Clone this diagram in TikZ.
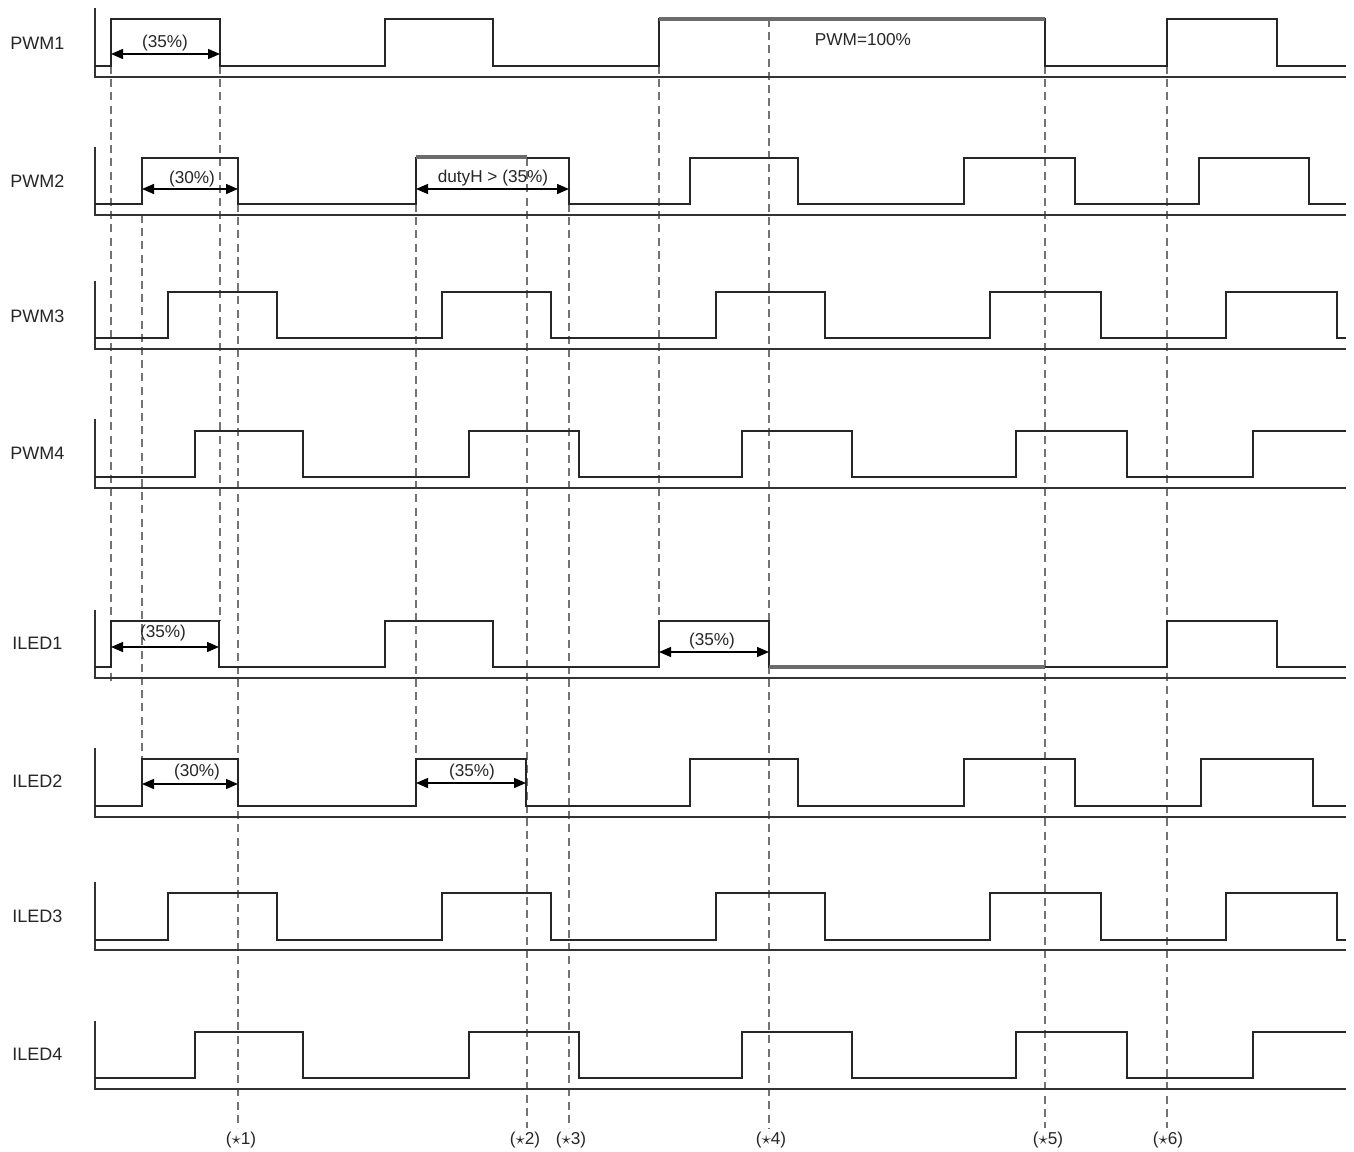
\documentclass[tikz,border=0pt]{standalone}
\usepackage{fontspec}
\setmainfont{Liberation Sans}
\usetikzlibrary{arrows.meta}
\begin{document}
\begin{tikzpicture}[x=0.5pt,y=-0.5pt,
  sig/.style={line width=0.75pt,draw=black!85},
  axisline/.style={line width=0.7pt,draw=black!80},
  thickgray/.style={line width=2pt,draw=black!58},
  guide/.style={line width=0.65pt,draw=black!55,dash pattern=on 4pt off 2.6pt},
  dim/.style={line width=0.7pt,{Triangle[length=6pt,width=5pt]}-{Triangle[length=6pt,width=5pt]}},
  rowlabel/.style={font=\fontsize{9}{10}\selectfont,text=black!85,anchor=west,inner sep=0pt},
  ann/.style={font=\fontsize{8.6}{10}\selectfont,text=black!85,inner sep=0pt},
  evmark/.style={font=\fontsize{8.6}{10}\selectfont,text=black!85,inner sep=0pt}
]
\useasboundingbox (0,0) rectangle (1354,1151);

% guide lines (dashed)
\draw[guide] (111,66) -- (111,686);
\draw[guide] (142,215) -- (142,759);
\draw[guide] (220,66) -- (220,621);
\draw[guide] (238,204) -- (238,1128);
\draw[guide] (416,204) -- (416,759);
\draw[guide] (527,158) -- (527,1128);
\draw[guide] (569,204) -- (569,1128);
\draw[guide] (659,66) -- (659,621);
\draw[guide] (769,19) -- (769,1128);
\draw[guide] (1045,66) -- (1045,1128);
\draw[guide] (1167,66) -- (1167,1128);

% axes
\foreach \top/\base in {8/77,147/215,281/349,419/488,610/678,748/817,882/950,1021/1089}{
  \draw[axisline] (95,\top) -- (95,\base) -- (1346,\base);
}

% row labels
\node[rowlabel] (lp1) at (10,43) {PWM1};
\node[rowlabel] (lp2) at (10,181) {PWM2};
\node[rowlabel] (lp3) at (10,316) {PWM3};
\node[rowlabel] (lp4) at (10,453) {PWM4};
\node[rowlabel] (li1) at (12,643) {ILED1};
\node[rowlabel] (li2) at (12,781) {ILED2};
\node[rowlabel] (li3) at (12,916) {ILED3};
\node[rowlabel] (li4) at (12,1054) {ILED4};

% waveforms
\draw[sig] (95,66) -| (111,19) -| (220,66) -| (385,19) -| (493,66) -| (659,19) -| (1045,66) -| (1167,19) -| (1277,66) -- (1346,66);
\draw[sig] (95,204) -| (142,158) -| (238,204) -| (416,158) -| (569,204) -| (690,158) -| (798,204) -| (964,158) -| (1075,204) -| (1199,158) -| (1309,204) -- (1346,204);
\draw[sig] (95,338) -| (168,292) -| (277,338) -| (442,292) -| (551,338) -| (716,292) -| (825,338) -| (990,292) -| (1101,338) -| (1226,292) -| (1337,338) -- (1346,338);
\draw[sig] (95,477) -| (195,431) -| (303,477) -| (469,431) -| (579,477) -| (742,431) -| (852,477) -| (1016,431) -| (1127,477) -| (1253,431) -- (1346,431);
\draw[sig] (95,667) -| (111,621) -| (219,667) -| (385,621) -| (493,667) -| (659,621) -| (769,667) -| (1167,621) -| (1277,667) -- (1346,667);
\draw[sig] (95,806) -| (142,759) -| (238,806) -| (416,759) -| (526,806) -| (690,759) -| (798,806) -| (964,759) -| (1075,806) -| (1201,759) -| (1313,806) -- (1346,806);
\draw[sig] (95,940) -| (168,893) -| (277,940) -| (442,893) -| (551,940) -| (716,893) -| (825,940) -| (990,893) -| (1101,940) -| (1226,893) -| (1337,940) -- (1346,940);
\draw[sig] (95,1078) -| (195,1032) -| (303,1078) -| (469,1032) -| (579,1078) -| (742,1032) -| (852,1078) -| (1016,1032) -| (1127,1078) -| (1253,1032) -- (1346,1032);

% highlighted segments
\draw[thickgray] (659,19) -- (1045,19);
\draw[thickgray] (416,157) -- (527,157);
\draw[thickgray] (769,667) -- (1045,667);

% dimension arrows and annotations
\coordinate (a1l) at (111,54); \coordinate (a1r) at (220,54);
\draw[dim] (a1l) -- (a1r);
\node[ann] (t1) at (165,43) {(35\%)};

\coordinate (a2l) at (142,189); \coordinate (a2r) at (238,189);
\draw[dim] (a2l) -- (a2r);
\node[ann] (t2) at (192,179) {(30\%)};

\coordinate (a3l) at (416,189); \coordinate (a3r) at (569,189);
\draw[dim] (a3l) -- (a3r);
\node[ann] (t3) at (493,178) {dutyH > (35\%)};

\node[ann] (t4) at (863,40) {PWM=100\%};

\coordinate (a5l) at (111,647); \coordinate (a5r) at (219,647);
\draw[dim] (a5l) -- (a5r);
\node[ann] (t5) at (163,633) {(35\%)};

\coordinate (a6l) at (659,652); \coordinate (a6r) at (769,652);
\draw[dim] (a6l) -- (a6r);
\node[ann] (t6) at (712,641) {(35\%)};

\coordinate (a7l) at (142,784); \coordinate (a7r) at (238,784);
\draw[dim] (a7l) -- (a7r);
\node[ann] (t7) at (197,772) {(30\%)};

\coordinate (a8l) at (416,783); \coordinate (a8r) at (526,783);
\draw[dim] (a8l) -- (a8r);
\node[ann] (t8) at (472,772) {(35\%)};

% event markers
\node[evmark] (m1) at (241,1140) {($\star$1)};
\node[evmark] (m2) at (525,1140) {($\star$2)};
\node[evmark] (m3) at (571,1140) {($\star$3)};
\node[evmark] (m4) at (771,1140) {($\star$4)};
\node[evmark] (m5) at (1048,1140) {($\star$5)};
\node[evmark] (m6) at (1168,1140) {($\star$6)};
\end{tikzpicture}
\end{document}
